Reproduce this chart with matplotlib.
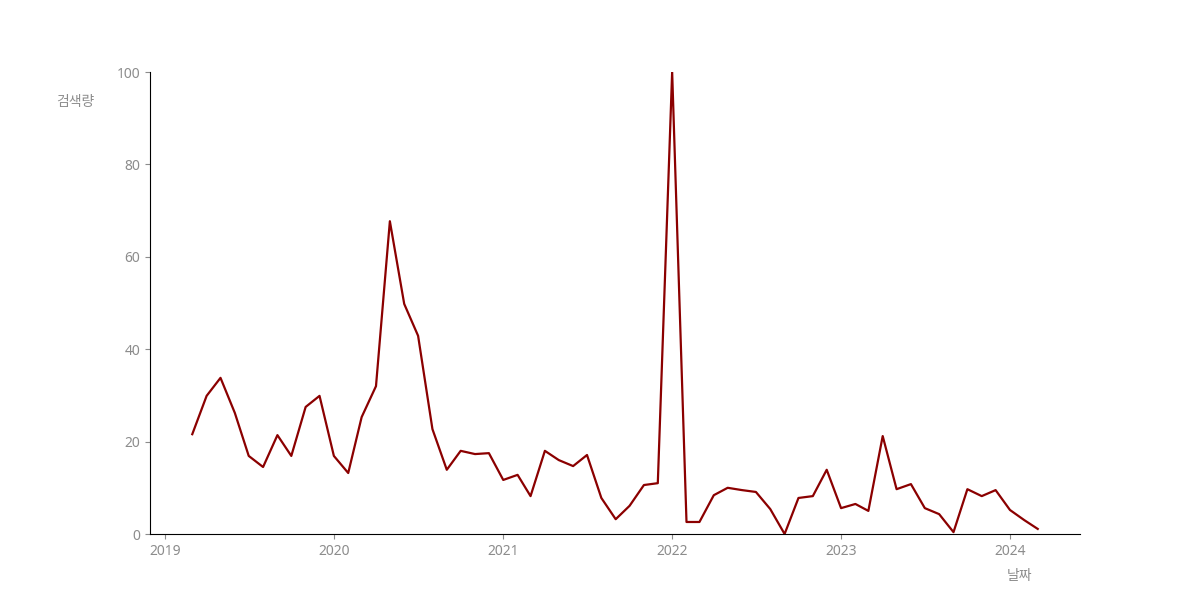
import pandas as pd
import matplotlib
matplotlib.use("Agg")
from matplotlib import pyplot as plt
import matplotlib.dates as mdates

plt.rcParams["font.family"] = ["Noto Sans", "Noto Sans CJK KR", "DejaVu Sans"]

dates = pd.date_range("2019-03-01", "2024-03-01", freq="MS")
search_volume = [
    21.6, 29.9, 33.8, 26.2, 16.9, 14.5, 21.4, 16.9, 27.5, 29.9,
    16.9, 13.2, 25.3, 32.0, 67.7, 49.8, 42.9, 22.7, 13.9, 18.0,
    17.3, 17.5, 11.7, 12.8, 8.2, 18.0, 16.0, 14.7, 17.1, 7.8,
    3.2, 6.1, 10.6, 11.0, 100.0, 2.6, 2.6, 8.4, 10.0, 9.5,
    9.1, 5.4, 0.0, 7.8, 8.2, 13.9, 5.6, 6.5, 5.0, 21.2,
    9.7, 10.8, 5.6, 4.3, 0.4, 9.7, 8.2, 9.5, 5.2, 3.0,
    1.1,
]
y_label = "검색량"
x_label = "날짜"

fig, ax = plt.subplots(figsize=(12, 6), dpi=100)
ax.plot(dates, search_volume, color="#8b0000", linewidth=1.6)

ax.set_ylim(0, 100)
ax.xaxis.set_major_locator(mdates.YearLocator())
ax.xaxis.set_major_formatter(mdates.DateFormatter("%Y"))

for side in ["top", "right"]:
    ax.spines[side].set_visible(False)
ax.tick_params(colors="#8c8c8c", labelsize=10)

ax.set_ylabel(y_label, rotation=0, color="#8c8c8c", fontsize=10)
ax.yaxis.set_label_coords(-0.08, 0.918)
ax.set_xlabel(x_label, color="#8c8c8c", fontsize=10)
ax.xaxis.set_label_coords(0.935, -0.075)

fig.savefig("out.png")
